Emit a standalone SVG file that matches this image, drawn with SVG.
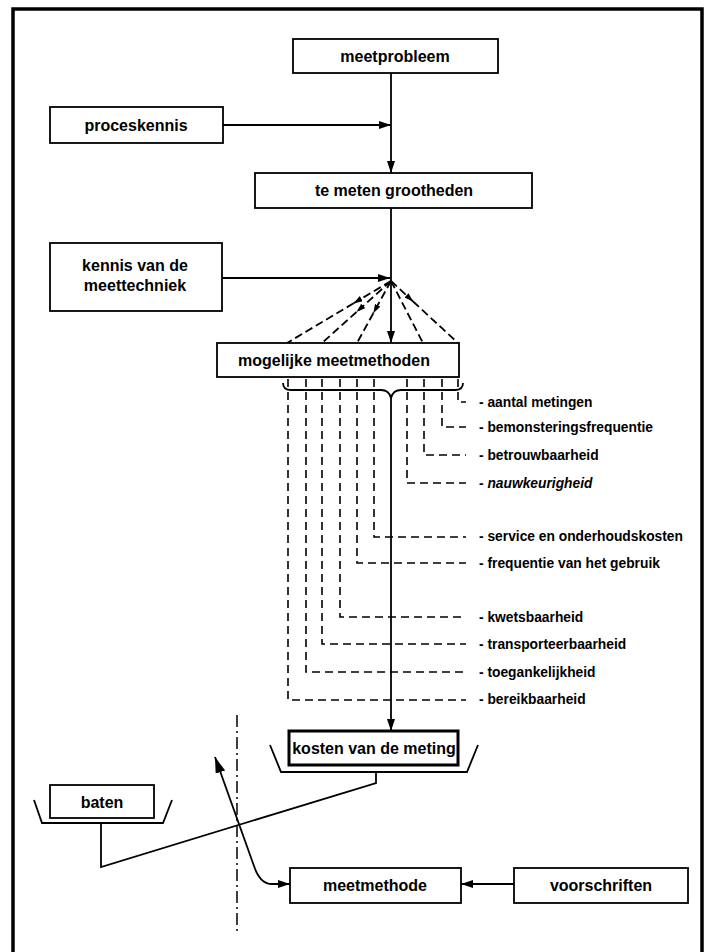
<svg xmlns="http://www.w3.org/2000/svg" width="714" height="952" viewBox="0 0 714 952">
<style>
.box{fill:#fff;stroke:#000;stroke-width:1.8}
.t{font-family:"Liberation Sans",Arial,sans-serif;font-weight:bold;font-size:16px;fill:#000;text-anchor:middle;dominant-baseline:central}
.lab{font-family:"Liberation Sans",Arial,sans-serif;font-weight:bold;font-size:13.8px;fill:#000;dominant-baseline:central}
.ln{fill:none;stroke:#000;stroke-width:1.8}
.ds{fill:none;stroke:#000;stroke-width:1.6;stroke-dasharray:8,5}
.fan{fill:none;stroke:#000;stroke-width:1.8;stroke-dasharray:8,4}
</style>
<defs>
<marker id="ar" markerUnits="userSpaceOnUse" markerWidth="12" markerHeight="8" refX="12" refY="4" orient="auto"><path d="M0,0 L12,4 L0,8 z" fill="#000"/></marker>
<marker id="sm" markerUnits="userSpaceOnUse" markerWidth="9" markerHeight="6" refX="9" refY="3" orient="auto"><path d="M0,0 L9,3 L0,6 z" fill="#000"/></marker>
<marker id="big" markerUnits="userSpaceOnUse" markerWidth="16" markerHeight="10" refX="16" refY="5" orient="auto-start-reverse"><path d="M0,0 L16,5 L0,10 z" fill="#000"/></marker>
</defs>
<rect x="0" y="0" width="714" height="952" fill="#fff"/>
<g id="frame"><path d="M13,952 L13,9 L702,9 L702,952" fill="none" stroke="#000" stroke-width="3.5"/></g>

<g id="connectors">
<path class="ln" d="M391,73 L391,173" marker-end="url(#ar)"/>
<path class="ln" d="M223,125 L391,125" marker-end="url(#ar)"/>
<path class="ln" d="M391,208 L391,343" marker-end="url(#ar)"/>
<path class="ln" d="M222,278 L390,278" marker-end="url(#ar)"/>
<path class="fan" d="M391,281 L353.6,303.3" marker-end="url(#sm)"/>
<path class="fan" d="M353.6,303.3 L287,343"/>
<path class="fan" d="M391,281 L356.5,312" marker-end="url(#sm)"/>
<path class="fan" d="M356.5,312 L322,343"/>
<path class="fan" d="M391,281 L373.3,313.2" marker-end="url(#sm)"/>
<path class="fan" d="M373.3,313.2 L357,343"/>
<path class="fan" d="M391,281 L423,343"/>
<path class="fan" d="M391,281 L413.1,301.5" marker-end="url(#sm)"/>
<path class="fan" d="M413.1,301.5 L458,343"/>
<path class="ds" d="M458,379 L458,402 L466,402"/>
<path class="ds" d="M442,379 L442,427 L466,427"/>
<path class="ds" d="M424,379 L424,455 L466,455"/>
<path class="ds" d="M407,379 L407,483 L466,483"/>
<path class="ds" d="M374,379 L374,537 L466,537"/>
<path class="ds" d="M357,379 L357,563 L466,563"/>
<path class="ds" d="M340,379 L340,617 L466,617"/>
<path class="ds" d="M322,379 L322,644 L466,644"/>
<path class="ds" d="M306,379 L306,672 L466,672"/>
<path class="ds" d="M288,379 L288,700 L466,700"/>
<path class="ln" d="M283,383 Q283,390 291,390 L381,390 Q389,390 391,398 Q393,390 401,390 L455,390 Q463,390 463,383"/>
<path class="ln" d="M391,398 L391,731" marker-end="url(#ar)"/>
<path d="M237,715 L237,932" fill="none" stroke="#000" stroke-width="1.5" stroke-dasharray="12,4,2,4"/>
<path class="ln" d="M376,772 L376,783 L101,867 L101,823"/>
<path class="ln" d="M215,757 L254,866 Q260,884 272,884 L290,884" marker-start="url(#big)" marker-end="url(#ar)"/>
<path class="ln" d="M514,884 L461,884" marker-end="url(#ar)"/>
</g>

<g id="meetprobleem"><rect class="box" x="293" y="39" width="205" height="34"/><text class="t" x="395" y="56">meetprobleem</text></g>
<g id="proceskennis"><rect class="box" x="50" y="107" width="173" height="36"/><text class="t" x="136" y="125">proceskennis</text></g>
<g id="te-meten-grootheden"><rect class="box" x="255" y="173" width="277" height="35"/><text class="t" x="394" y="190">te meten grootheden</text></g>
<g id="kennis-meettechniek"><rect class="box" x="50" y="243" width="172" height="68"/><text class="t" x="135" y="265">kennis van de</text><text class="t" x="135" y="285">meettechniek</text></g>
<g id="mogelijke-meetmethoden"><rect class="box" x="217" y="343" width="242" height="34"/><text class="t" x="334" y="360">mogelijke meetmethoden</text></g>

<g id="labels">
<text class="lab" x="479" y="402">- aantal metingen</text>
<text class="lab" x="479" y="427">- bemonsteringsfrequentie</text>
<text class="lab" x="479" y="455">- betrouwbaarheid</text>
<text class="lab" x="479" y="483" font-style="italic">- nauwkeurigheid</text>
<text class="lab" x="479" y="536">- service en onderhoudskosten</text>
<text class="lab" x="479" y="563">- frequentie van het gebruik</text>
<text class="lab" x="479" y="617">- kwetsbaarheid</text>
<text class="lab" x="479" y="644">- transporteerbaarheid</text>
<text class="lab" x="479" y="672">- toegankelijkheid</text>
<text class="lab" x="479" y="699">- bereikbaarheid</text>
</g>

<g id="kosten-van-de-meting"><path class="ln" d="M270,745 L281,772 L467,772 L478,745"/><rect x="289" y="731" width="169" height="34" fill="#fff" stroke="#000" stroke-width="3"/><text class="t" x="374" y="748" font-size="15.5">kosten van de meting</text></g>
<g id="baten"><path class="ln" d="M34,800 L42,823 L163,823 L172,800"/><rect class="box" x="50" y="785" width="104" height="33"/><text class="t" x="102" y="802">baten</text></g>
<g id="meetmethode"><rect class="box" x="290" y="868" width="171" height="35"/><text class="t" x="375" y="885">meetmethode</text></g>
<g id="voorschriften"><rect class="box" x="514" y="868" width="174" height="35"/><text class="t" x="601" y="885">voorschriften</text></g>
</svg>
